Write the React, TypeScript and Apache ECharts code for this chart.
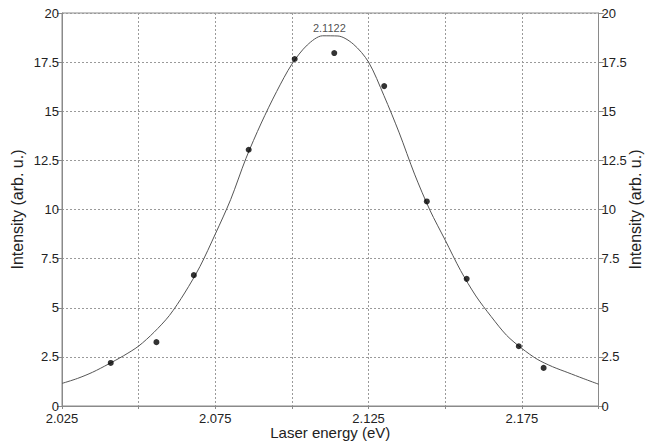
import React, { useEffect, useRef } from "react";
import * as echarts from "echarts";

// Fitted curve, every 0.005 eV
const curveEnergy = [
  2.025, 2.03, 2.035, 2.04, 2.045, 2.05, 2.055, 2.06, 2.065, 2.07, 2.075, 2.08,
  2.085, 2.09, 2.095, 2.1, 2.105, 2.11, 2.115, 2.12, 2.125, 2.13, 2.135, 2.14,
  2.145, 2.15, 2.155, 2.16, 2.165, 2.17, 2.175, 2.18, 2.185, 2.19, 2.195, 2.2,
];
const curveIntensity = [
  1.15, 1.4, 1.72, 2.12, 2.55, 3.05, 3.75, 4.6, 5.75, 7.1, 8.75, 10.5,
  12.6, 14.4, 16.0, 17.4, 18.37, 18.84, 18.83, 18.42, 17.5, 15.8, 13.9, 11.8,
  9.97, 8.44, 6.9, 5.6, 4.55, 3.6, 2.93, 2.38, 2.0, 1.7, 1.4, 1.11,
];

// Measured points
const pointEnergy = [2.0409, 2.0558, 2.068, 2.0859, 2.1009, 2.1138, 2.1301, 2.144, 2.157, 2.174, 2.1821];
const pointIntensity = [2.19, 3.25, 6.66, 13.04, 17.66, 17.96, 16.28, 10.41, 6.47, 3.04, 1.94];

const peakEnergy = 2.1122;
const peakIntensity = 18.88;
const peakLabel = "2.1122";

const xTickLabels = ["2.025", "2.075", "2.125", "2.175"];

const FONT = "Liberation Sans, Arial, sans-serif";
const AXIS_COLOR = "#8a8a8a";
const TEXT_COLOR = "#222";

export default function App() {
  const ref = useRef<HTMLDivElement>(null);

  useEffect(() => {
    if (!ref.current) return;
    const chart = echarts.init(ref.current, undefined, { renderer: "svg" });

    const yAxisCommon = {
      type: "value" as const,
      min: 0,
      max: 20,
      interval: 2.5,
      axisLine: { show: true, lineStyle: { color: AXIS_COLOR, width: 1 } },
      axisTick: { show: true, inside: false, length: 5, lineStyle: { color: AXIS_COLOR } },
      axisLabel: { color: TEXT_COLOR, fontSize: 13, lineHeight: 11, fontFamily: FONT, margin: 3 },
      name: "Intensity (arb. u.)",
      nameLocation: "middle" as const,
      nameMoveOverlap: false,
      nameTextStyle: { color: TEXT_COLOR, fontSize: 16, fontFamily: FONT },
    };

    chart.setOption({
      animation: false,
      backgroundColor: "#fff",
      grid: {
        left: 62,
        right: 54.5,
        top: 13,
        bottom: 36,
        outerBoundsMode: "none",
        containLabel: false,
        show: true,
        borderColor: AXIS_COLOR,
        borderWidth: 1,
        backgroundColor: "transparent",
      },
      xAxis: {
        type: "value",
        min: 2.025,
        max: 2.2,
        interval: 0.025,
        name: "Laser energy (eV)",
        nameLocation: "middle",
        nameMoveOverlap: false,
        nameGap: 19,
        nameTextStyle: { color: TEXT_COLOR, fontSize: 15, fontFamily: FONT },
        axisLine: { show: true, onZero: false, lineStyle: { color: AXIS_COLOR, width: 1 } },
        axisTick: { show: true, length: 3, lineStyle: { color: AXIS_COLOR } },
        axisLabel: {
          color: TEXT_COLOR,
          fontSize: 13,
          lineHeight: 13,
          fontFamily: FONT,
          margin: 6,
          showMinLabel: true,
          showMaxLabel: true,
          formatter: (v: number) => {
            const s = (Math.round(v * 1000) / 1000).toFixed(3);
            return xTickLabels.includes(s) ? s : "";
          },
        },
        splitLine: { show: true, lineStyle: { color: "#9a9a9a", type: [2, 2], width: 1 } },
      },
      yAxis: [
        {
          ...yAxisCommon,
          position: "left",
          nameGap: 37,
          splitLine: { show: true, lineStyle: { color: "#9a9a9a", type: [2, 2], width: 1 } },
        },
        {
          ...yAxisCommon,
          position: "right",
          nameGap: 29,
          nameRotate: 90,
          splitLine: { show: false },
        },
      ],
      series: [
        {
          name: "fit",
          type: "line",
          data: curveEnergy.map((x, i) => [x, curveIntensity[i]]),
          smooth: 0.3,
          showSymbol: false,
          symbol: "none",
          lineStyle: { color: "#555", width: 1 },
          z: 2,
        },
        {
          name: "points",
          type: "scatter",
          data: pointEnergy.map((x, i) => [x, pointIntensity[i]]),
          symbol: "circle",
          symbolSize: 6,
          itemStyle: { color: "#000" },
          z: 3,
        },
        {
          name: "peak",
          type: "scatter",
          data: [[peakEnergy, peakIntensity]],
          symbolSize: 1,
          itemStyle: { color: "rgba(0,0,0,0)" },
          label: {
            show: true,
            position: "top",
            distance: 1,
            formatter: peakLabel,
            color: TEXT_COLOR,
            fontSize: 11,
            fontFamily: FONT,
          },
          z: 4,
        },
      ],
    });

    return () => chart.dispose();
  }, []);

  return (
    <div
      ref={ref}
      style={{ position: "fixed", left: 0, top: 0, width: 653, height: 442, background: "#fff" }}
    />
  );
}
